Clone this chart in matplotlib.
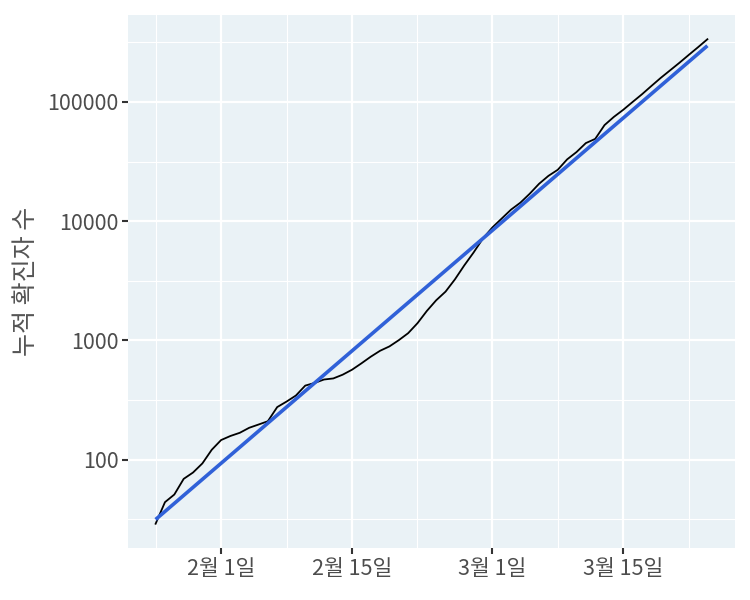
import numpy as np
import pandas as pd
import matplotlib
matplotlib.use("Agg")
import matplotlib.pyplot as plt
import matplotlib.dates as mdates
from matplotlib.ticker import FixedLocator, FixedFormatter, NullFormatter

plt.rcParams['font.family'] = ['Noto Sans CJK KR', 'DejaVu Sans']

# 누적 확진자 수 (1월 25일 ~ 3월 24일, 하루 간격)
start_date = "2020-01-25"
cum_cases = [29, 44, 51, 69, 78, 93, 121, 146, 158, 168,
             185, 197, 210, 276, 307, 345, 418, 440, 470, 480,
             516, 568, 642, 730, 819, 891, 1005, 1150, 1395, 1767,
             2172, 2566, 3250, 4256, 5466, 7165, 8850, 10520, 12500, 14300,
             17000, 20600, 24000, 27000, 33000, 38000, 45200, 49000, 64000, 75000,
             86000, 100000, 116000, 136000, 159000, 184000, 213000, 248000, 288000, 336000]

y_ticks = [100, 1000, 10000, 100000]
y_tick_labels = ['100', '1000', '10000', '100000']
x_ticks = ["2020-02-01", "2020-02-15", "2020-03-01", "2020-03-15"]
x_tick_labels = ['2월 1일', '2월 15일', '3월 1일', '3월 15일']
x_minor = ["2020-01-25", "2020-02-08", "2020-02-22", "2020-03-08", "2020-03-22"]

dates = pd.date_range(start_date, periods=len(cum_cases), freq='D')
df = pd.DataFrame({'date': dates, 'cases': cum_cases})

# 로그 스케일 선형 회귀 (geom_smooth(method='lm'))
day_idx = np.arange(len(df))
coef = np.polyfit(day_idx, np.log10(df['cases']), 1)
df['fit'] = 10 ** np.polyval(coef, day_idx)

fig = plt.figure(figsize=(7.5, 6), dpi=100)
ax = fig.add_axes([0.1707, 0.0867, 0.8093, 0.8883])
ax.set_facecolor('#EAF2F6')

ax.plot(df['date'], df['cases'], color='black', lw=1.3, zorder=3)
ax.plot(df['date'], df['fit'], color='#3061D8', lw=2.6, zorder=4, solid_capstyle='butt')

ax.set_yscale('log')
lo, hi = np.log10(min(cum_cases)), np.log10(max(cum_cases))
pad = (hi - lo) * 0.05
ax.set_ylim(10 ** (lo - pad), 10 ** (hi + pad))
ax.yaxis.set_major_locator(FixedLocator(y_ticks))
ax.yaxis.set_major_formatter(FixedFormatter(y_tick_labels))
ax.yaxis.set_minor_locator(FixedLocator([10 ** (e + 0.5) for e in range(1, 6)]))
ax.yaxis.set_minor_formatter(NullFormatter())

x0, x1 = mdates.date2num(df['date'].iloc[0]), mdates.date2num(df['date'].iloc[-1])
xpad = (x1 - x0) * 0.05
ax.set_xlim(x0 - xpad, x1 + xpad)
ax.xaxis.set_major_locator(FixedLocator(mdates.date2num(pd.to_datetime(x_ticks))))
ax.xaxis.set_major_formatter(FixedFormatter(x_tick_labels))
ax.xaxis.set_minor_locator(FixedLocator(mdates.date2num(pd.to_datetime(x_minor))))
ax.xaxis.set_minor_formatter(NullFormatter())

ax.grid(which='major', color='white', lw=1.6)
ax.grid(which='minor', color='white', lw=0.8)
ax.set_axisbelow(True)
for s in ax.spines.values():
    s.set_visible(False)

ax.tick_params(which='major', length=4, width=1.5, color='#333333',
               labelsize=15.5, labelcolor='#4D4D4D', pad=3)
ax.tick_params(which='minor', length=0)

ax.set_ylabel('누적 확진자 수', fontsize=18, color='#555555', labelpad=6)

fig.savefig('out.png', dpi=100)
